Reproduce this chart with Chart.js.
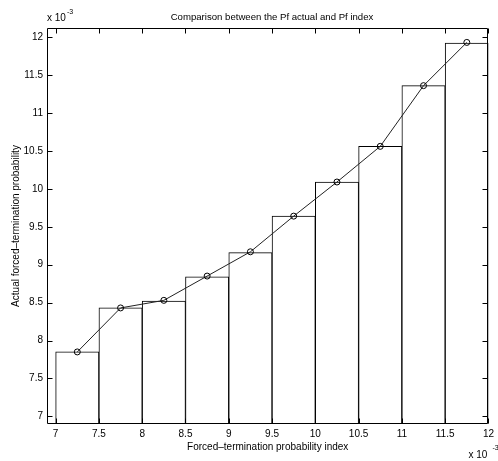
<!DOCTYPE html>
<html>
<head>
<meta charset="utf-8">
<script src="https://cdn.jsdelivr.net/npm/chart.js@4.4.1/dist/chart.umd.min.js"></script>
<style>
  html, body { margin: 0; padding: 0; background: #fff; }
  #wrap { width: 498px; height: 461px; position: relative; }
</style>
</head>
<body>
<div id="wrap"><canvas id="c" width="498" height="461"></canvas></div>
<script>
// Data (values in units of 1e-3)
const binCenters = [7.25, 7.75, 8.25, 8.75, 9.25, 9.75, 10.25, 10.75, 11.25, 11.75];
const barValues  = [7.85, 8.43, 8.52, 8.84, 9.16, 9.64, 10.09, 10.56, 11.36, 11.92];
const actualValues = [7.85, 8.43, 8.53, 8.85, 9.17, 9.64, 10.09, 10.56, 11.36, 11.93];
const titleText = 'Comparison between the Pf actual and Pf index';
const xTitle = 'Forced\u2013termination probability index';
const yTitle = 'Actual forced\u2013termination probability';
const exponentLabel = 'x 10';
const exponentPower = '-3';

const FONT = '"Liberation Sans", Arial, Helvetica, sans-serif';

const framePlugin = {
  id: 'frame',
  afterDatasetsDraw(chart) {
    const {ctx, chartArea, scales} = chart;
    const L = Math.round(chartArea.left) + 0.5;
    const R = Math.round(chartArea.right) - 0.5;
    const T = Math.round(chartArea.top) + 0.5;
    const B = Math.round(chartArea.bottom) - 0.5;
    const tl = 5;
    ctx.save();
    ctx.strokeStyle = '#000';
    ctx.lineWidth = 1;
    ctx.beginPath();
    ctx.rect(L, T, R - L, B - T);
    scales.x.ticks.forEach(t => {
      const px = Math.round(scales.x.getPixelForValue(t.value)) + 0.5;
      ctx.moveTo(px, B); ctx.lineTo(px, B - tl);
      ctx.moveTo(px, T); ctx.lineTo(px, T + tl);
    });
    scales.y.ticks.forEach(t => {
      const py = Math.round(scales.y.getPixelForValue(t.value)) + 0.5;
      ctx.moveTo(L, py); ctx.lineTo(L + tl, py);
      ctx.moveTo(R, py); ctx.lineTo(R - tl, py);
    });
    ctx.stroke();
    // title
    ctx.fillStyle = '#000';
    ctx.font = '9.6px ' + FONT;
    ctx.textAlign = 'center';
    ctx.textBaseline = 'middle';
    ctx.fillText(titleText, 272, 17);
    // exponent labels
    ctx.font = '10px ' + FONT;
    ctx.textAlign = 'left';
    ctx.fillText(exponentLabel, chartArea.left, 18);
    ctx.font = '7px ' + FONT;
    ctx.fillText(exponentPower, chartArea.left + 20, 12);
    ctx.font = '10px ' + FONT;
    ctx.fillText(exponentLabel, chartArea.right - 20, 455);
    ctx.font = '7px ' + FONT;
    ctx.fillText(exponentPower, chartArea.right + 4, 448);
    ctx.restore();
  }
};

const fmt = v => String(Math.round(v * 10) / 10);

new Chart(document.getElementById('c'), {
  type: 'bar',
  data: {
    datasets: [
      {
        type: 'line',
        label: 'Pf actual',
        data: binCenters.map((x, i) => ({x, y: actualValues[i]})),
        borderColor: '#222',
        borderWidth: 1,
        pointStyle: 'circle',
        pointRadius: 3,
        pointBorderWidth: 1,
        pointBorderColor: '#000',
        pointBackgroundColor: 'rgba(0,0,0,0)',
        tension: 0,
        order: 1
      },
      {
        type: 'bar',
        label: 'Pf index',
        data: binCenters.map((x, i) => ({x, y: barValues[i]})),
        backgroundColor: '#fff',
        borderColor: '#000',
        borderWidth: 1,
        barPercentage: 1,
        categoryPercentage: 1,
        grouped: false,
        order: 2
      }
    ]
  },
  options: {
    responsive: false,
    animation: false,
    devicePixelRatio: 1,
    layout: { padding: { top: 28, right: 6, left: 0, bottom: 0 } },
    plugins: { legend: { display: false }, tooltip: { enabled: false }, title: { display: false } },
    scales: {
      x: {
        type: 'linear',
        offset: false,
        min: 6.9, max: 12,
        grid: { display: false, drawTicks: false },
        border: { display: false },
        ticks: { stepSize: 0.5, includeBounds: false, padding: 4, color: '#000', font: { size: 10, family: FONT }, maxRotation: 0, autoSkip: false, callback: fmt },
        title: { display: true, text: xTitle, color: '#000', font: { size: 10, family: FONT }, padding: { top: 0, bottom: 8 } },
        afterFit: s => { s.height = 37; }
      },
      y: {
        type: 'linear',
        min: 6.9, max: 12.12,
        grid: { display: false, drawTicks: false },
        border: { display: false },
        ticks: { stepSize: 0.5, includeBounds: false, padding: 4, color: '#000', font: { size: 10, family: FONT }, autoSkip: false, callback: fmt },
        title: { display: true, text: yTitle, color: '#000', font: { size: 10, family: FONT }, padding: { top: 10, bottom: 0 } },
        afterFit: s => { s.width = 47; }
      }
    }
  },
  plugins: [framePlugin]
});
</script>
</body>
</html>
